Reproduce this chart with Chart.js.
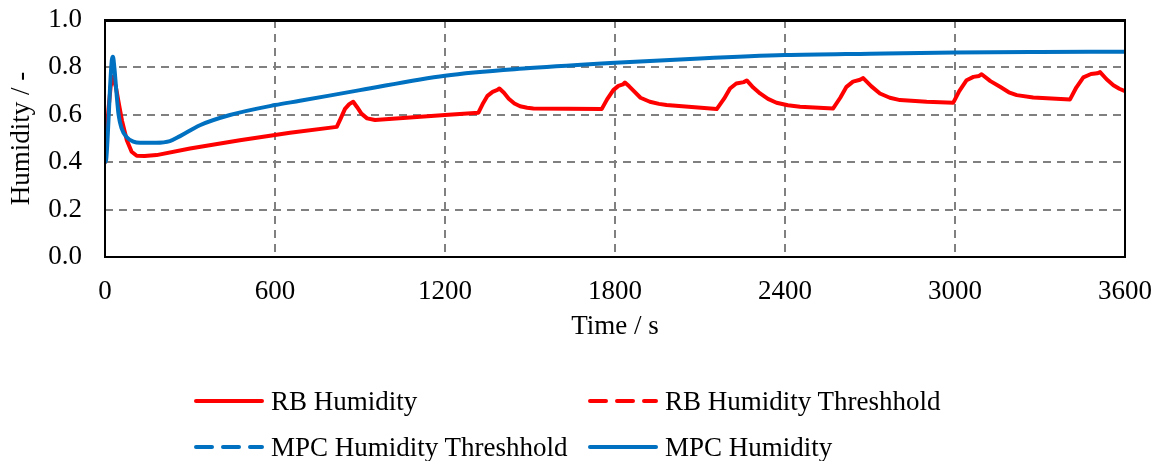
<!DOCTYPE html>
<html>
<head>
<meta charset="utf-8">
<script src="https://cdn.jsdelivr.net/npm/chart.js@4.4.1/dist/chart.umd.min.js"></script>
<style>
  html, body { margin: 0; padding: 0; background: #fff; }
  #wrap { position: relative; width: 1160px; height: 461px; font-family: "Liberation Serif", "Times New Roman", serif; }
  .leg { position: absolute; display: flex; align-items: center; height: 34px; font-size: 27px; line-height: 1; color: #000; white-space: nowrap; }
  .leg svg { margin-right: 7px; }
</style>
</head>
<body>
<div id="wrap">
  <canvas id="chart" width="1160" height="461"></canvas>
  <div id="legend"></div>
</div>
<script>
/* ---------- data ---------- */
const xTicks = [0, 600, 1200, 1800, 2400, 3000, 3600];
const yTicks = [0, 0.2, 0.4, 0.6, 0.8, 1.0];

const rbTime = [
  0, 5, 12, 20, 28, 38, 50, 60, 77, 94, 112, 140, 182, 300, 476, 653, 818,
  832, 847, 862, 876, 890, 905, 925, 953, 1200, 1318,
  1335, 1350, 1368, 1385, 1392, 1408, 1425, 1445, 1465, 1490, 1512, 1753,
  1772, 1794, 1812, 1828, 1835, 1850, 1865, 1890, 1923, 1955, 1982, 2159,
  2185, 2206, 2228, 2255, 2265, 2288, 2312, 2340, 2370, 2410, 2453, 2570,
  2595, 2617, 2640, 2665, 2676, 2705, 2735, 2770, 2806, 2900, 2994,
  3015, 3041, 3065, 3085, 3094, 3125, 3159, 3190, 3218, 3276, 3406,
  3428, 3453, 3480, 3502, 3512, 3535, 3559, 3580, 3600
];
const rbHumidity = [
  0.40, 0.50, 0.62, 0.72, 0.76, 0.72, 0.64, 0.575, 0.493, 0.444, 0.427, 0.426, 0.430, 0.458, 0.493, 0.524, 0.549,
  0.585, 0.625, 0.645, 0.655, 0.632, 0.605, 0.585, 0.578, 0.599, 0.609,
  0.650, 0.680, 0.697, 0.705, 0.711, 0.693, 0.668, 0.648, 0.636, 0.630, 0.627, 0.624,
  0.665, 0.704, 0.722, 0.728, 0.736, 0.720, 0.702, 0.672, 0.655, 0.646, 0.641, 0.624,
  0.668, 0.711, 0.732, 0.738, 0.745, 0.715, 0.690, 0.667, 0.651, 0.640, 0.634, 0.627,
  0.672, 0.718, 0.740, 0.748, 0.755, 0.720, 0.690, 0.672, 0.662, 0.655, 0.651,
  0.700, 0.746, 0.760, 0.764, 0.771, 0.742, 0.718, 0.695, 0.683, 0.673, 0.665,
  0.715, 0.758, 0.772, 0.775, 0.780, 0.750, 0.725, 0.710, 0.700
];

const mpcTime = [
  0, 4, 10, 18, 24, 28, 33, 40, 48, 58, 77, 100, 124, 180, 229, 265, 335, 441, 600,
  688, 900, 1200, 1500, 1800, 2100, 2400, 2700, 3000, 3300, 3600
];
const mpcHumidity = [
  0.40, 0.41, 0.52, 0.72, 0.83, 0.845, 0.80, 0.70, 0.60, 0.545, 0.505, 0.487, 0.482, 0.482, 0.489, 0.510, 0.556, 0.599, 0.641,
  0.659, 0.704, 0.765, 0.797, 0.820, 0.838, 0.852, 0.858, 0.863, 0.865, 0.866
];

// both thresholds sit on the top edge of the plot (1.0) and hide under the frame
const thresholdTime = [0, 3600];
const rbThreshold = [1.0, 1.0];
const mpcThreshold = [1.0, 1.0];

const RED = '#ff0000';
const BLUE = '#0070c0';
const FONT = '"Liberation Serif", "Times New Roman", serif';

function pts(xs, ys) {
  return xs.map((x, i) => ({ x: x, y: ys[i] }));
}

/* ---------- plot frame drawn on top ---------- */
const frame = {
  id: 'frame',
  afterDatasetsDraw(chart) {
    const a = chart.chartArea;
    const ctx = chart.ctx;
    ctx.save();
    ctx.strokeStyle = '#000';
    ctx.lineWidth = 2;
    ctx.strokeRect(a.left, a.top, a.right - a.left, a.bottom - a.top);
    ctx.lineWidth = 3;
    ctx.beginPath();
    ctx.moveTo(a.left, a.top + 0.5);
    ctx.lineTo(a.right, a.top + 0.5);
    ctx.stroke();
    ctx.restore();
  }
};

const chart = new Chart(document.getElementById('chart'), {
  type: 'line',
  data: {
    datasets: [
      { label: 'RB Humidity', data: pts(rbTime, rbHumidity), borderColor: RED, borderWidth: 4, order: 1 },
      { label: 'RB Humidity Threshhold', data: pts(thresholdTime, rbThreshold), borderColor: RED, borderWidth: 4, borderDash: [12, 8], order: 3, clip: 0 },
      { label: 'MPC Humidity Threshhold', data: pts(thresholdTime, mpcThreshold), borderColor: BLUE, borderWidth: 4, borderDash: [12, 8], order: 2, clip: 0 },
      { label: 'MPC Humidity', data: pts(mpcTime, mpcHumidity), borderColor: BLUE, borderWidth: 4, order: 0, cubicInterpolationMode: 'monotone' }
    ]
  },
  options: {
    responsive: false,
    animation: false,
    parsing: false,
    layout: { padding: { top: 20, right: 35, bottom: 118, left: 0 } },
    elements: { point: { radius: 0 }, line: { tension: 0, borderCapStyle: 'round', borderJoinStyle: 'round' } },
    plugins: { legend: { display: false }, tooltip: { enabled: false } },
    scales: {
      x: {
        type: 'linear', min: 0, max: 3600,
        afterBuildTicks: s => { s.ticks = xTicks.map(v => ({ value: v })); },
        afterFit: s => { s.height = 86; s.paddingLeft = 0; s.paddingRight = 0; },
        ticks: { color: '#000', font: { family: FONT, size: 27 }, padding: 19, maxRotation: 0, callback: v => String(v) },
        grid: { color: '#808080', lineWidth: 2, drawTicks: false },
        border: { display: false, dash: [8, 6] },
        title: { display: true, text: 'Time / s', color: '#000', font: { family: FONT, size: 27 }, padding: { top: 0, bottom: 0 } }
      },
      y: {
        min: 0, max: 1,
        afterBuildTicks: s => { s.ticks = yTicks.map(v => ({ value: v })); },
        afterFit: s => { s.width = 105; s.paddingTop = 0; s.paddingBottom = 0; },
        ticks: { color: '#000', font: { family: FONT, size: 27 }, padding: 23, callback: v => v.toFixed(1) },
        grid: { color: '#808080', lineWidth: 2, drawTicks: false },
        border: { display: false, dash: [8, 6] },
        title: { display: true, text: 'Humidity / -', color: '#000', font: { family: FONT, size: 27 }, padding: { top: 6, bottom: 0 } }
      }
    }
  },
  plugins: [frame]
});

/* ---------- legend, two columns like the original ---------- */
const legendPos = [[194, 384], [588, 384], [194, 430], [588, 430]];
const legendBox = document.getElementById('legend');
chart.data.datasets.forEach((ds, i) => {
  const item = document.createElement('div');
  item.className = 'leg';
  item.style.left = legendPos[i][0] + 'px';
  item.style.top = legendPos[i][1] + 'px';
  const dash = ds.borderDash ? 'stroke-dasharray="16 11"' : '';
  item.innerHTML = '<svg width="70" height="8"><line x1="2" y1="4" x2="68" y2="4" stroke="' + ds.borderColor +
    '" stroke-width="4" stroke-linecap="round" ' + dash + '/></svg><span>' + ds.label + '</span>';
  legendBox.appendChild(item);
});
</script>
</body>
</html>
